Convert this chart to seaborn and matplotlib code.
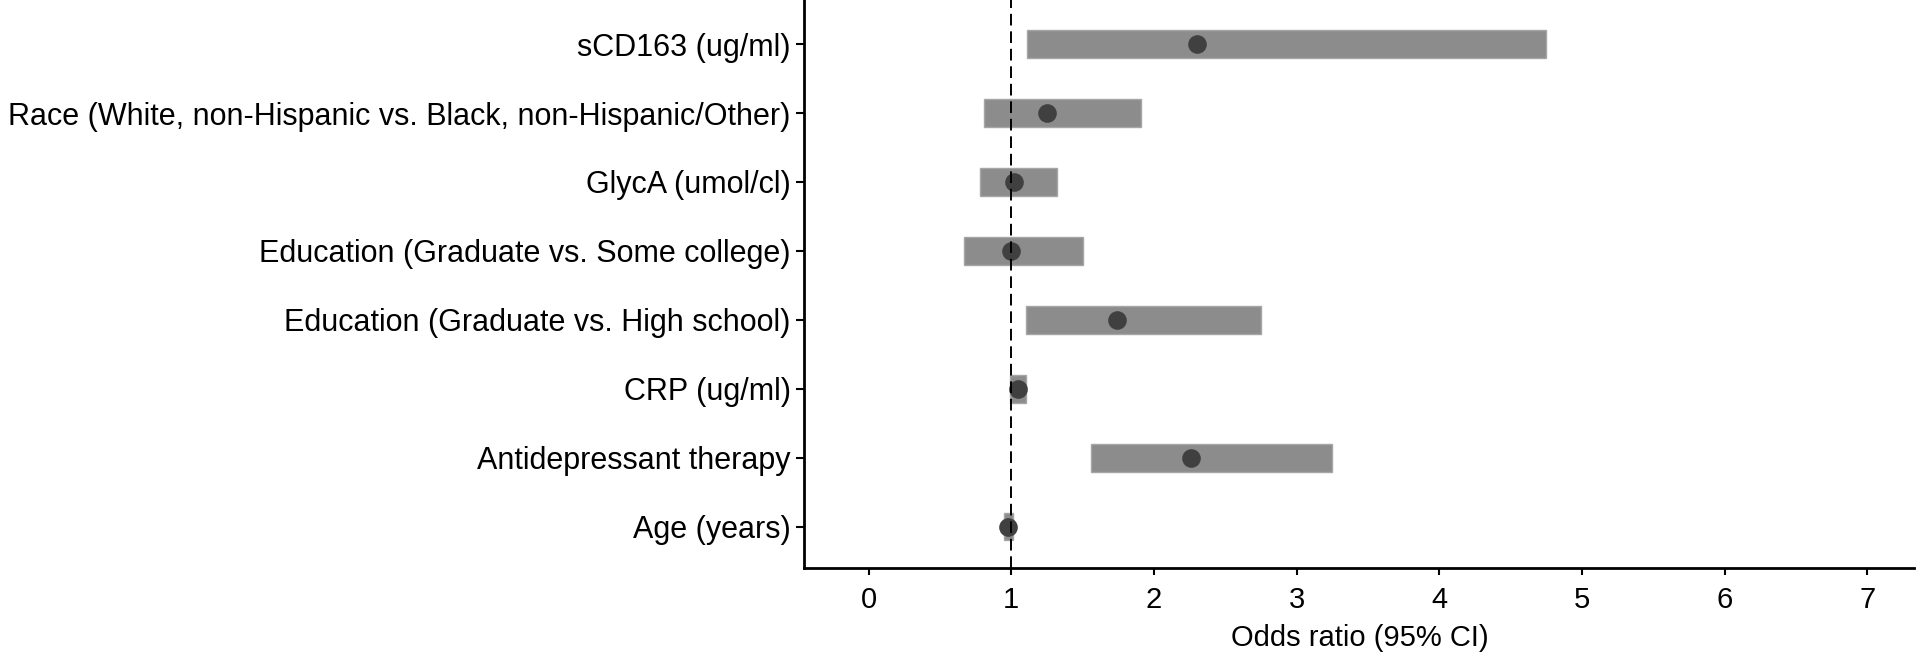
import matplotlib
matplotlib.use("Agg")
import matplotlib.pyplot as plt
import seaborn as sns
import numpy as np
import pandas as pd

sns.set_theme(style="ticks")
plt.rcParams['font.family'] = ['Liberation Sans', 'DejaVu Sans']

# Data (top to bottom as displayed)
labels = [
    "sCD163 (ug/ml)",
    "Race (White, non-Hispanic vs. Black, non-Hispanic/Other)",
    "GlycA (umol/cl)",
    "Education (Graduate vs. Some college)",
    "Education (Graduate vs. High school)",
    "CRP (ug/ml)",
    "Antidepressant therapy",
    "Age (years)",
]
odds_ratio = [2.30, 1.25, 1.02, 1.00, 1.74, 1.05, 2.26, 0.975]
ci_lower = [1.11, 0.81, 0.78, 0.67, 1.10, 0.99, 1.56, 0.95]
ci_upper = [4.75, 1.91, 1.32, 1.50, 2.75, 1.10, 3.25, 1.01]
x_ticks = [0, 1, 2, 3, 4, 5, 6, 7]

df = pd.DataFrame({
    "label": labels,
    "or": odds_ratio,
    "lo": ci_lower,
    "hi": ci_upper,
})
n = len(df)
df["pos"] = np.arange(n)[::-1]

fig = plt.figure(figsize=(19.2, 6.59), dpi=100)
ax = fig.add_axes([0.419, 0.138, 0.578, 0.862])

ax.barh(df["pos"], df["hi"] - df["lo"], left=df["lo"], height=0.4,
        color="#8c8c8c", edgecolor="#a6a6a6", linewidth=1.0, zorder=2)
sns.scatterplot(data=df, x="or", y="pos", ax=ax, color="#404040", s=180,
                edgecolor="#404040", linewidth=0, zorder=3, legend=False)
ax.axvline(1, color="black", linestyle=(0, (6, 3)), linewidth=1.4, zorder=4)

ax.set_xlim(-0.45, 7.33)
ax.set_ylim(-0.6, n - 1 + 0.64)
ax.set_xticks(x_ticks)
ax.set_xticklabels([str(t) for t in x_ticks])
ax.set_yticks(df["pos"])
ax.set_yticklabels(df["label"])
ax.set_xlabel("Odds ratio (95% CI)", fontsize=21, labelpad=7, color="black")
ax.set_ylabel("")

for s in ["top", "right"]:
    ax.spines[s].set_visible(False)
for s in ["left", "bottom"]:
    ax.spines[s].set_linewidth(2.0)
    ax.spines[s].set_color("black")

ax.tick_params(axis="x", labelsize=21, colors="black", width=1.5, length=5, pad=8)
ax.tick_params(axis="y", labelsize=22, colors="black", width=1.5, length=6, pad=4)
ax.grid(False)

fig.savefig("out.png", dpi=100, facecolor="white")
